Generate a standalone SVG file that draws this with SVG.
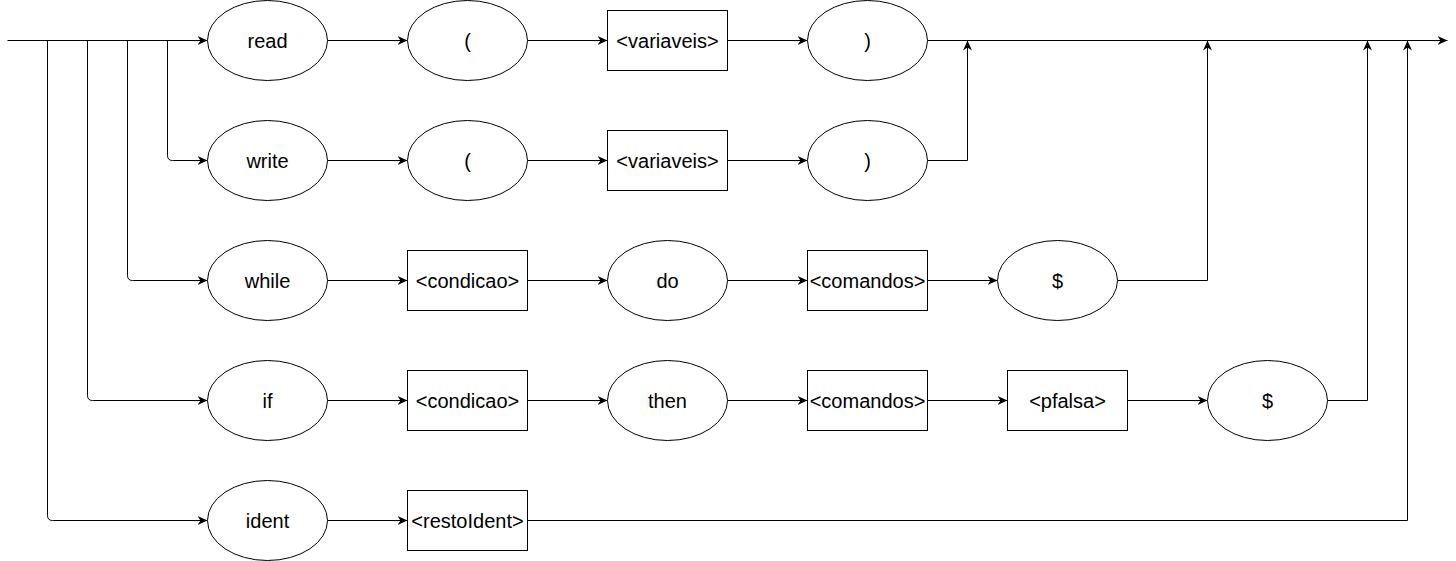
<svg xmlns="http://www.w3.org/2000/svg" width="1456" height="561" viewBox="0 0 1456 561">
<style>
.n ellipse,.n rect{fill:#fff;stroke:#000;stroke-width:1}
.n text{font-family:"Liberation Sans",Arial,sans-serif;font-size:20px;fill:#000;text-anchor:middle;dominant-baseline:central}
.c path{fill:none;stroke:#000;stroke-width:1;marker-end:url(#a)}
</style>
<defs>
<marker id="a" markerUnits="userSpaceOnUse" markerWidth="11" markerHeight="9" refX="10" refY="4.5" orient="auto" viewBox="0 0 11 9">
<path d="M0 0 L10 4.5 L0 9 L3 4.5 Z" fill="#000"/>
</marker>
</defs>
<rect width="1456" height="561" fill="#fff"/>
<g transform="translate(0.5,0.5)">
<g class="c" id="connectors">
<path d="M7 40 H207"/>
<path d="M167 40 V155 Q167 160 172 160 H207"/>
<path d="M127 40 V275 Q127 280 132 280 H207"/>
<path d="M87 40 V395 Q87 400 92 400 H207"/>
<path d="M47 40 V515 Q47 520 52 520 H207"/>
<path d="M327 40 H407"/>
<path d="M527 40 H607"/>
<path d="M727 40 H807"/>
<path d="M927 40 H1447"/>
<path d="M327 160 H407"/>
<path d="M527 160 H607"/>
<path d="M727 160 H807"/>
<path d="M927 160 H967 V40"/>
<path d="M327 280 H407"/>
<path d="M527 280 H607"/>
<path d="M727 280 H807"/>
<path d="M927 280 H997"/>
<path d="M1117 280 H1207 V40"/>
<path d="M327 400 H407"/>
<path d="M527 400 H607"/>
<path d="M727 400 H807"/>
<path d="M927 400 H1007"/>
<path d="M1127 400 H1207"/>
<path d="M1327 400 H1367 V40"/>
<path d="M327 520 H407"/>
<path d="M527 520 H1407 V40"/>
</g>
<g class="n" id="read"><ellipse cx="267" cy="40" rx="60" ry="40"/><text x="267" y="40">read</text></g>
<g class="n" id="lp1"><ellipse cx="467" cy="40" rx="60" ry="40"/><text x="467" y="40">(</text></g>
<g class="n" id="var1"><rect x="607" y="10" width="120" height="60"/><text x="667" y="40">&lt;variaveis&gt;</text></g>
<g class="n" id="rp1"><ellipse cx="867" cy="40" rx="60" ry="40"/><text x="867" y="40">)</text></g>
<g class="n" id="write"><ellipse cx="267" cy="160" rx="60" ry="40"/><text x="267" y="160">write</text></g>
<g class="n" id="lp2"><ellipse cx="467" cy="160" rx="60" ry="40"/><text x="467" y="160">(</text></g>
<g class="n" id="var2"><rect x="607" y="130" width="120" height="60"/><text x="667" y="160">&lt;variaveis&gt;</text></g>
<g class="n" id="rp2"><ellipse cx="867" cy="160" rx="60" ry="40"/><text x="867" y="160">)</text></g>
<g class="n" id="while"><ellipse cx="267" cy="280" rx="60" ry="40"/><text x="267" y="280">while</text></g>
<g class="n" id="cond1"><rect x="407" y="250" width="120" height="60"/><text x="467" y="280">&lt;condicao&gt;</text></g>
<g class="n" id="do"><ellipse cx="667" cy="280" rx="60" ry="40"/><text x="667" y="280">do</text></g>
<g class="n" id="cmd1"><rect x="807" y="250" width="120" height="60"/><text x="867" y="280">&lt;comandos&gt;</text></g>
<g class="n" id="end1"><ellipse cx="1057" cy="280" rx="60" ry="40"/><text x="1057" y="280">$</text></g>
<g class="n" id="if"><ellipse cx="267" cy="400" rx="60" ry="40"/><text x="267" y="400">if</text></g>
<g class="n" id="cond2"><rect x="407" y="370" width="120" height="60"/><text x="467" y="400">&lt;condicao&gt;</text></g>
<g class="n" id="then"><ellipse cx="667" cy="400" rx="60" ry="40"/><text x="667" y="400">then</text></g>
<g class="n" id="cmd2"><rect x="807" y="370" width="120" height="60"/><text x="867" y="400">&lt;comandos&gt;</text></g>
<g class="n" id="pfalsa"><rect x="1007" y="370" width="120" height="60"/><text x="1067" y="400">&lt;pfalsa&gt;</text></g>
<g class="n" id="end2"><ellipse cx="1267" cy="400" rx="60" ry="40"/><text x="1267" y="400">$</text></g>
<g class="n" id="ident"><ellipse cx="267" cy="520" rx="60" ry="40"/><text x="267" y="520">ident</text></g>
<g class="n" id="resto"><rect x="407" y="490" width="120" height="60"/><text x="467" y="520">&lt;restoIdent&gt;</text></g>
</g>
</svg>
